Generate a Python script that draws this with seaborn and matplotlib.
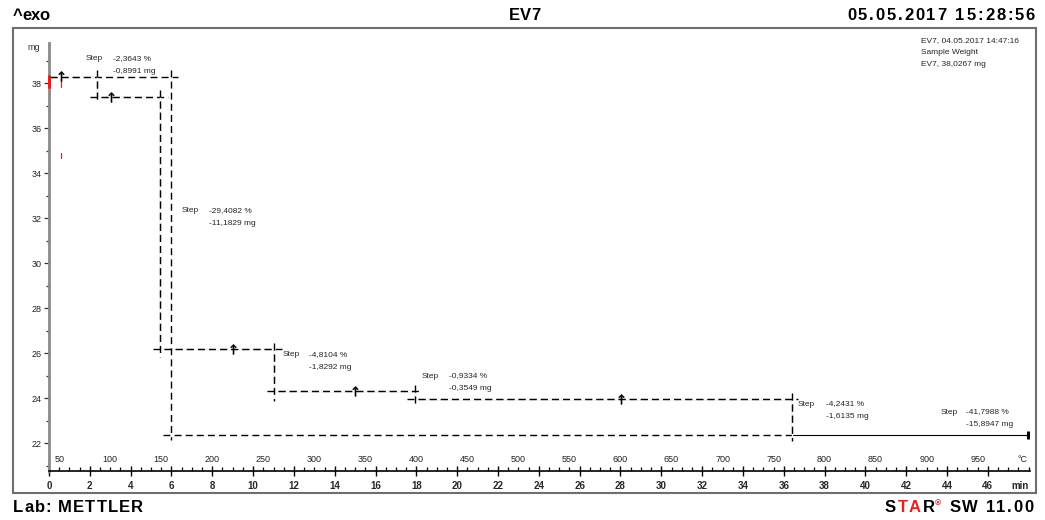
import matplotlib
matplotlib.use("Agg")
import matplotlib.pyplot as plt
import seaborn as sns
from matplotlib.font_manager import FontProperties
from matplotlib.patches import Rectangle
from matplotlib.ticker import MultipleLocator
from matplotlib.transforms import blended_transform_factory

W, H = 1045, 520

# TGA curve, time in min and mass in mg
curve_time = [0.05, 2.35, 2.35, 5.44, 5.44, 11.02, 11.02, 17.93, 17.93, 36.40, 36.40, 47.97]
curve_mass = [38.28, 38.28, 37.38, 37.38, 26.16, 26.16, 24.33, 24.33, 23.98, 23.98, 22.36, 22.36]

# step evaluation: horizontal baselines and vertical step lines
base_level = [38.28, 37.38, 26.16, 24.33, 23.98, 22.36]
base_from = [0.05, 2.01, 5.10, 10.68, 17.54, 5.59]
base_to = [6.32, 5.83, 11.42, 18.28, 36.70, 36.40]
vert_time = [2.35, 5.44, 5.98, 11.02, 17.93, 36.40]
vert_top = [38.58, 37.69, 38.58, 26.44, 24.58, 24.22]
vert_bottom = [37.16, 25.82, 22.13, 23.85, 23.64, 22.09]

# step results
step_pct = ["-2,3643 %", "-29,4082 %", "-4,8104 %", "-0,9334 %", "-4,2431 %", "-41,7988 %"]
step_mg = ["-0,8991 mg", "-11,1829 mg", "-1,8292 mg", "-0,3549 mg", "-1,6135 mg", "-15,8947 mg"]
# label anchors in pixels
step_label_x = [86, 182, 283, 422, 798, 941]
step_value_x = [113, 209, 309, 449, 826, 966]
step_label_y = [59, 211, 355, 376, 404, 412]

# evaluation pins and red limit marks
pin_time = [0.59, 3.04, 9.02, 14.99, 28.03]
pin_mass = [38.33, 37.38, 26.16, 24.33, 23.98]
end_time, end_mass = 47.97, 22.36
red_time = [0.0, 0.59, 0.59]
red_top = [38.33, 38.20, 34.90]
red_bottom = [37.82, 37.82, 34.67]
red_width = [2.2, 0.9, 0.9]

min_ticks = list(range(0, 47, 2))
temp_ticks = list(range(50, 951, 50))
mass_ticks = list(range(22, 39, 2))
T_START, RATE = 40.0, 20.0  # degC at t=0, K/min

sns.set_theme(style="white")
plt.rcParams["font.family"] = ["Liberation Sans", "DejaVu Sans"]


def fx(px):
    return px / W


def fy(py):
    return 1 - py / H


def tracked(fig, text, x0, x1, y, colors=None, size=12):
    """Bold header text with letter spacing fitted between x0 and x1 (pixels)."""
    r = fig.canvas.get_renderer()
    fp = FontProperties(family="Liberation Sans", weight="bold", size=size)
    small = FontProperties(family="Liberation Sans", weight="bold", size=size * 0.5)
    colors = colors or ["black"] * len(text)
    em = size * fig.dpi / 72
    widths = []
    for ch in text:
        if ch == " ":
            widths.append(0.28 * em)
        else:
            widths.append(r.get_text_width_height_descent(ch, small if ch == "®" else fp, ismath=False)[0])
    gap = (x1 - x0 - sum(widths)) / (len(text) - 1)
    x = x0
    for ch, c, w in zip(text, colors, widths):
        if ch == "®":
            fig.text(fx(x - 1), fy(y - 4), ch, color=c, fontproperties=small, ha="left", va="center")
        elif ch != " ":
            fig.text(fx(x), fy(y), ch, color=c, fontproperties=fp, ha="left", va="center")
        x += w + gap


fig = plt.figure(figsize=(W / 100, H / 100), dpi=100)
ax = fig.add_axes([fx(49), fy(471), (1030 - 49) / W, (471 - 43) / H])

# curve first, then the dashed construction lines drawn opaque over it
sns.lineplot(x=curve_time, y=curve_mass, ax=ax, color="black", linewidth=0.8,
             estimator=None, sort=False, zorder=2)
for lvl, a, b in zip(base_level, base_from, base_to):
    ax.plot([a, b], [lvl, lvl], color="black", lw=1.0, ls=(0, (5, 3)), gapcolor="white", zorder=3)
for t, top, bot in zip(vert_time, vert_top, vert_bottom):
    ax.plot([t, t], [top, bot], color="black", lw=1.0, ls=(0, (5, 3)), gapcolor="white", zorder=3)

for t, top, bot, lw in zip(red_time, red_top, red_bottom, red_width):
    ax.plot([t, t], [top, bot], color="#e8201e", lw=lw, zorder=4, clip_on=False)

sns.scatterplot(x=pin_time, y=pin_mass, ax=ax, marker=r"$\uparrow$", s=50,
                color="black", linewidth=0.3, edgecolor="black", zorder=5)
ax.plot([end_time], [end_mass], marker="|", ms=6, mew=2.2, color="black", zorder=5)

ax.set_xlim(0, (1030 - 49) / 20.41)
ax.set_ylim(20.76, 39.78)

# axes styling
for side in ("top", "right"):
    ax.spines[side].set_visible(False)
ax.spines["left"].set_color("#8a8a8a")
ax.spines["left"].set_linewidth(2.0)
ax.spines["bottom"].set_color("black")
ax.spines["bottom"].set_linewidth(1.2)

ax.set_yticks(mass_ticks, labels=[str(m) for m in mass_ticks])
ax.yaxis.set_minor_locator(MultipleLocator(1))
ax.tick_params(axis="y", which="major", direction="out", length=3.5, width=0.9,
               color="#333333", labelsize=6.5, labelcolor="#222222", pad=2, left=True)
ax.tick_params(axis="y", which="minor", direction="out", length=2.5, width=0.9,
               color="#333333", left=True)

ax.set_xticks(min_ticks, labels=[str(m) for m in min_ticks])
for lab in ax.get_xticklabels():
    lab.set_fontweight("bold")
ax.xaxis.set_minor_locator(MultipleLocator(0.5))
ax.tick_params(axis="x", which="major", direction="inout", length=7, width=1.0,
               color="black", labelsize=7, pad=4, bottom=True)
ax.tick_params(axis="x", which="minor", direction="in", length=3, width=0.9,
               color="black", bottom=True)

# temperature scale along the time axis
trans = blended_transform_factory(ax.transData, ax.transAxes)
for T in temp_ticks:
    ax.text((T - T_START) / RATE, (471 - 459) / 428, str(T), transform=trans,
            ha="center", va="center", fontsize=6.5, color="#222222")

fig.text(fx(1022), fy(459), "°C", ha="center", va="center", fontsize=6.5)
fig.text(fx(1020), fy(486), "min", ha="center", va="center", fontsize=7, fontweight="bold")
fig.text(fx(34), fy(48), "mg", ha="center", va="center", fontsize=6.5, color="#333333")

# step annotations
for i in range(len(step_pct)):
    fig.text(fx(step_label_x[i]), fy(step_label_y[i]), "Step", ha="left", va="center", fontsize=6)
    fig.text(fx(step_value_x[i]), fy(step_label_y[i]), step_pct[i], ha="left", va="center", fontsize=6)
    fig.text(fx(step_value_x[i]), fy(step_label_y[i] + 12.5), step_mg[i], ha="left", va="center", fontsize=6)

# sample info, top right
for k, line in enumerate(["EV7, 04.05.2017 14:47:16", "Sample Weight", "EV7, 38,0267 mg"]):
    fig.text(fx(921), fy(41 + 12 * k), line, ha="left", va="center", fontsize=6)

# frame and header/footer
fig.add_artist(Rectangle((fx(13), fy(493)), (1036 - 13) / W, (493 - 28) / H, transform=fig.transFigure,
                         fill=False, edgecolor="#6e6e6e", linewidth=1.5))

tracked(fig, "^exo", 13, 50, 16)
tracked(fig, "EV7", 509, 541, 16)
tracked(fig, "05.05.2017 15:28:56", 847, 1035, 16)
tracked(fig, "Lab: METTLER", 13, 143, 508)
star = "STAR® SW 11.00"
star_colors = ["black", "#e8201e", "#e8201e", "black", "#e8201e"] + ["black"] * 9
tracked(fig, star, 885, 1033, 508, colors=star_colors)

fig.savefig("out.png", dpi=100)
